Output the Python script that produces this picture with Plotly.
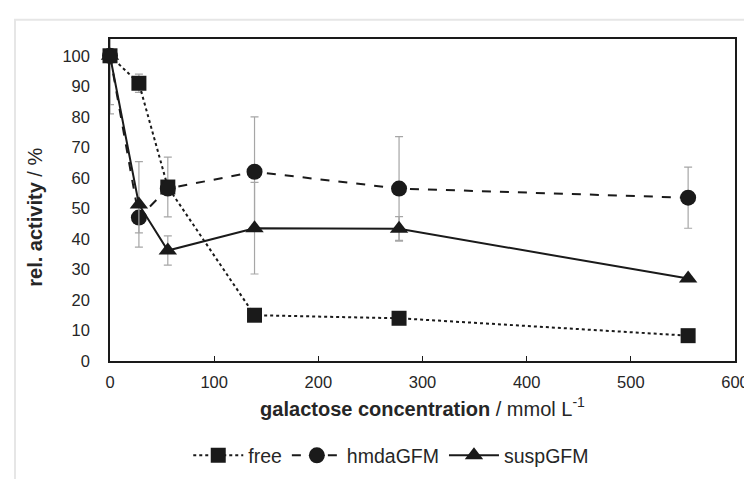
import plotly.graph_objects as go

# galactose concentration / mmol L-1
conc = [0, 27.75, 55.5, 138.75, 277.5, 555]

free = [100, 91, 57, 15, 14, 8.3]
free_err = [19, 3, 9.8, 0, 0, 0]

hmda = [100, 47, 56.5, 62, 56.5, 53.5]
hmda_err = [16, 5, 0, 18, 17, 10]

susp = [100, 51.3, 36.2, 43.5, 43.3, 27]
susp_err = [0, 14, 4.8, 15, 4, 0]

FONT = "Liberation Sans, Arial, sans-serif"
INK = "#1a1a1a"
ERR = "#a6a6a6"


def series(name, y, err, dash, symbol, size):
    return go.Scatter(
        x=conc, y=y, name=name, mode="lines+markers",
        line=dict(color=INK, width=2, dash=dash),
        marker=dict(symbol=symbol, size=size, color=INK),
        error_y=dict(type="data", array=err, visible=True, color=ERR,
                     thickness=1.2, width=4),
        cliponaxis=False,
    )


fig = go.Figure()
fig.add_trace(series("free", free, free_err, "dot", "square", 15))
fig.add_trace(series("hmdaGFM", hmda, hmda_err, "dash", "circle", 16))
fig.add_trace(series("suspGFM", susp, susp_err, "solid", "triangle-up", 16))

fig.update_layout(
    width=752, height=479,
    margin=dict(l=102, r=25, t=31, b=118),
    paper_bgcolor="white", plot_bgcolor="white",
    font=dict(family=FONT, size=16.5, color="#262626"),
    showlegend=True,
    legend=dict(orientation="h", x=0.45, xanchor="center", y=-0.294,
                yanchor="middle", font=dict(size=19.5), itemwidth=50),
    shapes=[dict(type="rect", xref="paper", yref="paper",
                 x0=-0.152, x1=1.2, y0=-1, y1=1.06,
                 line=dict(color="#e6e6e6", width=2), layer="below")],
    annotations=[dict(text="<b>rel. activity</b> / %", textangle=-90,
                      xref="paper", yref="paper", x=-0.12, y=0.445,
                      xanchor="center", yanchor="middle", showarrow=False,
                      font=dict(size=20))],
)
fig.update_xaxes(
    range=[0, 600], dtick=100, showgrid=False, zeroline=False,
    showline=True, linecolor=INK, linewidth=1.5, mirror=True,
    ticks="inside", ticklen=5, tickcolor=INK, ticklabelstandoff=5,
    title=dict(text="<b>galactose concentration</b> / mmol L<sup>-1</sup>",
               font=dict(size=20), standoff=12),
)
fig.update_yaxes(
    range=[0, 105.5], tickvals=list(range(0, 101, 10)),
    showgrid=False, zeroline=False,
    showline=True, linecolor=INK, linewidth=1.5, mirror=True,
    ticks="", ticklabelstandoff=15,
)

fig.write_html("out.html")
